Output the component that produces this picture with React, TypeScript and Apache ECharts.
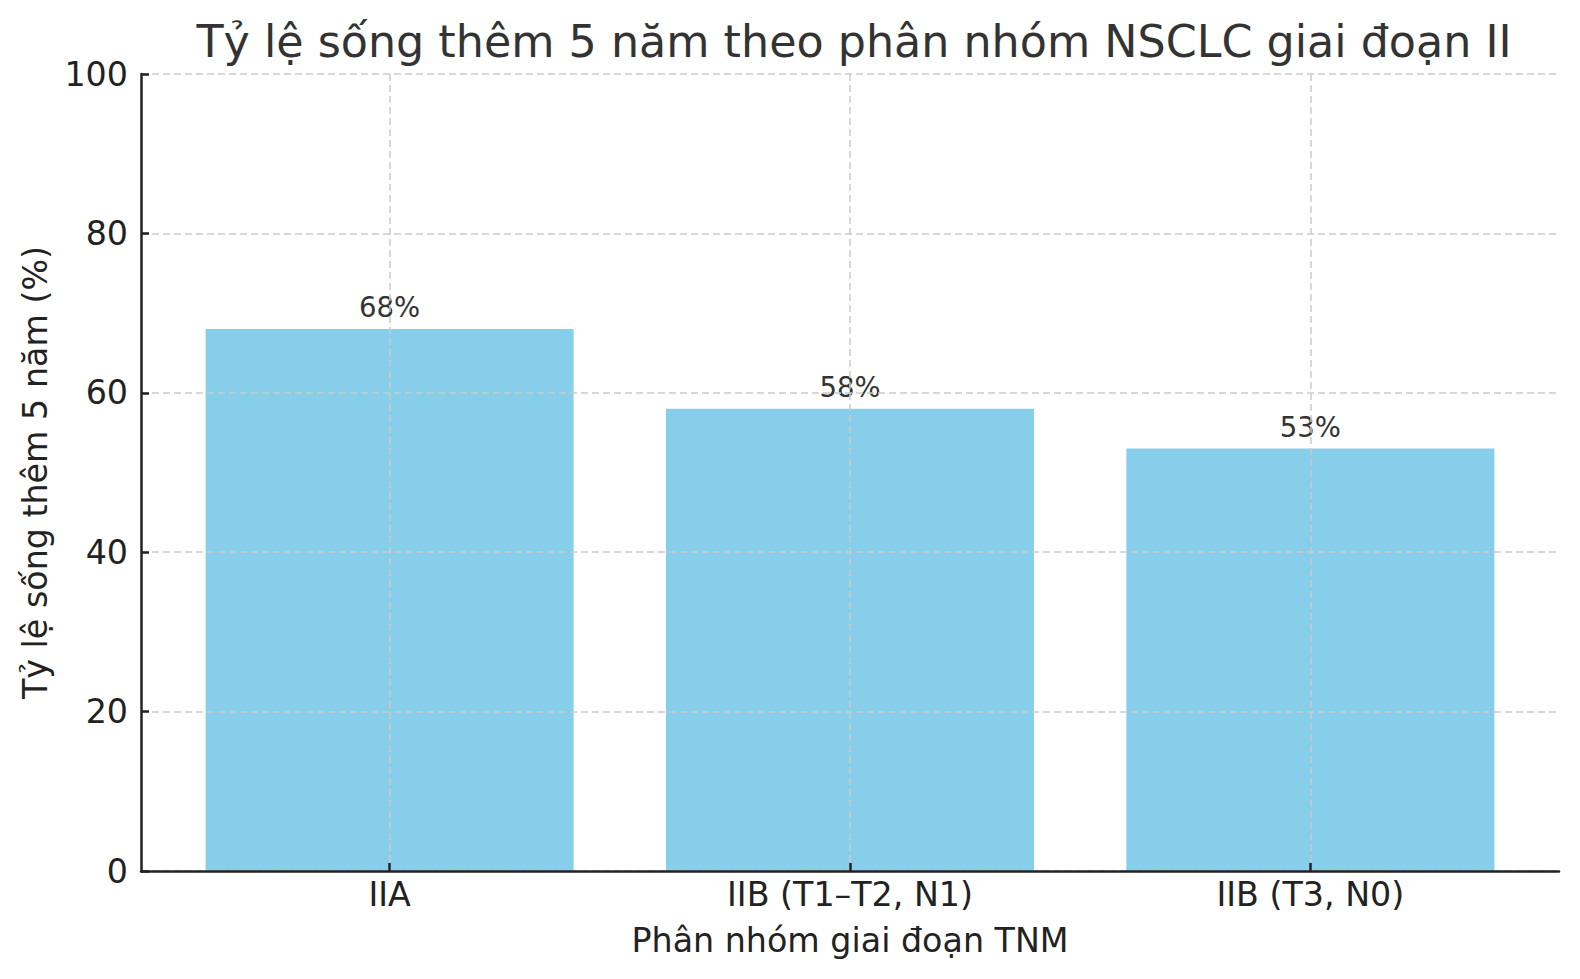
import { useEffect, useRef } from 'react';
import * as echarts from 'echarts';

const categories = ['IIA', 'IIB (T1–T2, N1)', 'IIB (T3, N0)'];
const categoryPositions = [0, 1, 2];
const survival = [68, 58, 53];
const yTicks = [0, 20, 40, 60, 80, 100];

const FONT = "'DejaVu Sans', sans-serif";
const GRID_LINE = { color: '#cccccc', width: 1.5, type: [7, 4] as number[] };
const AXIS_LINE = { color: '#222222', width: 2.5 };

export default function App() {
  const chartRef = useRef<HTMLDivElement | null>(null);

  useEffect(() => {
    if (!chartRef.current) {
      return;
    }
    const chart = echarts.init(chartRef.current, null, { renderer: 'svg' });
    chart.setOption({
      animation: false,
      backgroundColor: '#ffffff',
      title: {
        text: 'Tỷ lệ sống thêm 5 năm theo phân nhóm NSCLC giai đoạn II',
        left: 849,
        top: 14,
        textAlign: 'center',
        textStyle: { fontFamily: FONT, fontSize: 44.4, fontWeight: 'normal', color: '#333333' },
      },
      grid: { left: 141, right: 21, top: 74, bottom: 108 },
      xAxis: {
        type: 'value',
        min: -0.54,
        max: 2.54,
        z: 5,
        name: 'Phân nhóm giai đoạn TNM',
        nameLocation: 'middle',
        nameGap: 53,
        nameTextStyle: { fontFamily: FONT, fontSize: 33.3, color: '#222222' },
        axisLine: { show: true, onZero: false, lineStyle: AXIS_LINE },
        axisTick: { show: true, inside: true, length: 8, customValues: categoryPositions, lineStyle: AXIS_LINE },
        axisLabel: {
          customValues: categoryPositions,
          margin: 7,
          fontFamily: FONT,
          fontSize: 33.3,
          color: '#222222',
          formatter: (v: number) => categories[Math.round(v)] ?? '',
        },
        splitLine: { show: true, lineStyle: GRID_LINE },
      },
      yAxis: {
        type: 'value',
        min: yTicks[0],
        max: yTicks[yTicks.length - 1],
        interval: 20,
        z: 5,
        name: 'Tỷ lệ sống thêm 5 năm (%)',
        nameLocation: 'middle',
        nameGap: 89,
        nameTextStyle: { fontFamily: FONT, fontSize: 33.3, color: '#222222' },
        axisLine: { show: true, onZero: false, lineStyle: AXIS_LINE },
        axisTick: { show: true, inside: true, length: 8, lineStyle: AXIS_LINE },
        axisLabel: { margin: 13, fontFamily: FONT, fontSize: 33.3, color: '#222222' },
        splitLine: { show: true, lineStyle: GRID_LINE },
      },
      series: [
        {
          type: 'bar',
          data: survival.map((v, i) => [categoryPositions[i], v]),
          barWidth: 368,
          itemStyle: { color: '#87CEEB' },
          label: {
            show: true,
            position: 'top',
            distance: 8,
            fontFamily: FONT,
            fontSize: 27.5,
            color: '#333333',
            formatter: (p: any) => `${p.value[1]}%`,
          },
        },
      ],
    });
    return () => {
      chart.dispose();
    };
  }, []);

  return <div ref={chartRef} style={{ position: 'fixed', left: 0, top: 0, width: 1580, height: 979 }} />;
}
